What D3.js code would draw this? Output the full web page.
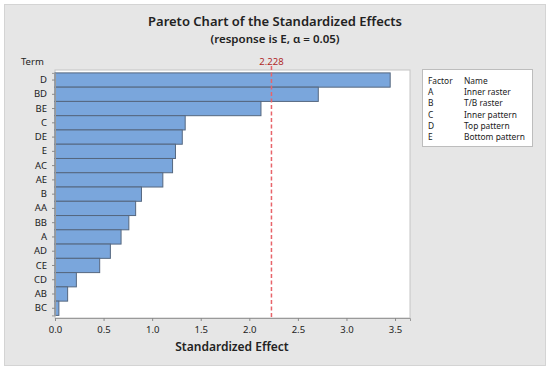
<!DOCTYPE html>
<html>
<head>
<meta charset="utf-8">
<script src="https://cdn.jsdelivr.net/npm/d3@7"></script>
<style>
  body { margin: 0; background: #fff; }
  svg text { font-family: "Noto Sans", "Open Sans", sans-serif; fill: #222; }
</style>
</head>
<body>
<svg id="chart" width="550" height="371"></svg>
<script>
// terms in pareto order, largest effect first
var terms = ['D', 'BD', 'BE', 'C', 'DE', 'E', 'AC', 'AE', 'B', 'AA', 'BB', 'A', 'AD', 'CE', 'CD', 'AB', 'BC'];
var effects = [3.45, 2.71, 2.12, 1.34, 1.31, 1.24, 1.21, 1.11, 0.89, 0.83, 0.76, 0.68, 0.57, 0.46, 0.22, 0.13, 0.04];
var xTicks = [0, 0.5, 1.0, 1.5, 2.0, 2.5, 3.0, 3.5];
var critical = 2.228;
var factors = ['A', 'B', 'C', 'D', 'E'];
var factorNames = ['Inner raster', 'T/B raster', 'Inner pattern', 'Top pattern', 'Bottom pattern'];

var svg = d3.select('#chart');

// gray panel behind everything
svg.append('rect')
  .attr('x', 4.5).attr('y', 4.5).attr('width', 541).attr('height', 361)
  .attr('fill', '#e6e6e6').attr('stroke', '#d4d4d4');

var plot = { left: 55, top: 70, right: 410, bottom: 318 };

svg.append('rect')
  .attr('x', plot.left).attr('y', plot.top)
  .attr('width', plot.right - plot.left).attr('height', plot.bottom - plot.top)
  .attr('fill', '#fff').attr('stroke', '#c4c4c4');

var x = d3.scaleLinear().domain([0, 3.654]).range([plot.left, plot.right]);
var y = d3.scaleBand().domain(terms).range([72.9, 315.4]).padding(0);

// titles
svg.append('text')
  .attr('x', 275).attr('y', 26).attr('text-anchor', 'middle')
  .style('font-size', '13px').style('font-weight', 600)
  .text('Pareto Chart of the Standardized Effects');
svg.append('text')
  .attr('x', 275).attr('y', 43).attr('text-anchor', 'middle')
  .style('font-size', '11.5px').style('font-weight', 600)
  .text('(response is E, \u03b1 = 0.05)');

svg.append('text')
  .attr('x', 21).attr('y', 65)
  .style('font-size', '9.5px')
  .text('Term');

// bars
svg.append('g').selectAll('rect')
  .data(terms)
  .enter().append('rect')
  .attr('x', x(0))
  .attr('y', function (d) { return y(d); })
  .attr('width', function (d, i) { return x(effects[i]) - x(0); })
  .attr('height', y.bandwidth())
  .attr('fill', '#7aa6dc')
  .attr('stroke', '#55677f')
  .attr('stroke-width', 1);

// axes
var xAxis = svg.append('g')
  .attr('transform', 'translate(0,' + plot.bottom + ')')
  .call(d3.axisBottom(x).tickValues(xTicks).tickFormat(d3.format('.1f')).tickSize(3));
var yAxis = svg.append('g')
  .attr('transform', 'translate(' + plot.left + ',0)')
  .call(d3.axisLeft(y).tickSize(3).tickPadding(5));

[xAxis, yAxis].forEach(function (ax) {
  ax.select('.domain').attr('stroke', '#9a9a9a');
  ax.selectAll('.tick line').attr('stroke', '#8a8a8a');
  ax.selectAll('.tick text').style('font-size', '9.5px').style('font-family', '"Noto Sans", sans-serif').attr('fill', '#222');
});
xAxis.selectAll('.tick text').attr('dy', '0.9em');

svg.append('text')
  .attr('x', 232).attr('y', 351).attr('text-anchor', 'middle')
  .style('font-size', '12px').style('font-weight', 600)
  .text('Standardized Effect');

// reference line at critical t value
svg.append('line')
  .attr('x1', x(critical)).attr('x2', x(critical))
  .attr('y1', 66).attr('y2', plot.bottom)
  .attr('stroke', '#e8646a').attr('stroke-width', 1.5)
  .attr('stroke-dasharray', '4,2.5');
svg.append('text')
  .attr('x', x(critical)).attr('y', 65).attr('text-anchor', 'middle')
  .style('font-size', '9.5px').style('fill', '#b02a2a')
  .text(critical);

// factor legend
var lg = svg.append('g').attr('transform', 'translate(422,69)');
lg.append('rect')
  .attr('x', 0.5).attr('y', 0.5).attr('width', 110).attr('height', 77)
  .attr('fill', '#fff').attr('stroke', '#bdbdbd');
lg.append('text').attr('x', 6).attr('y', 14.5).style('font-size', '8.4px').text('Factor');
lg.append('text').attr('x', 42).attr('y', 14.5).style('font-size', '8.4px').text('Name');
factors.forEach(function (f, i) {
  lg.append('text').attr('x', 6).attr('y', 26 + i * 11.3).style('font-size', '8.4px').text(f);
  lg.append('text').attr('x', 42).attr('y', 26 + i * 11.3).style('font-size', '8.4px').text(factorNames[i]);
});
</script>
</body>
</html>
